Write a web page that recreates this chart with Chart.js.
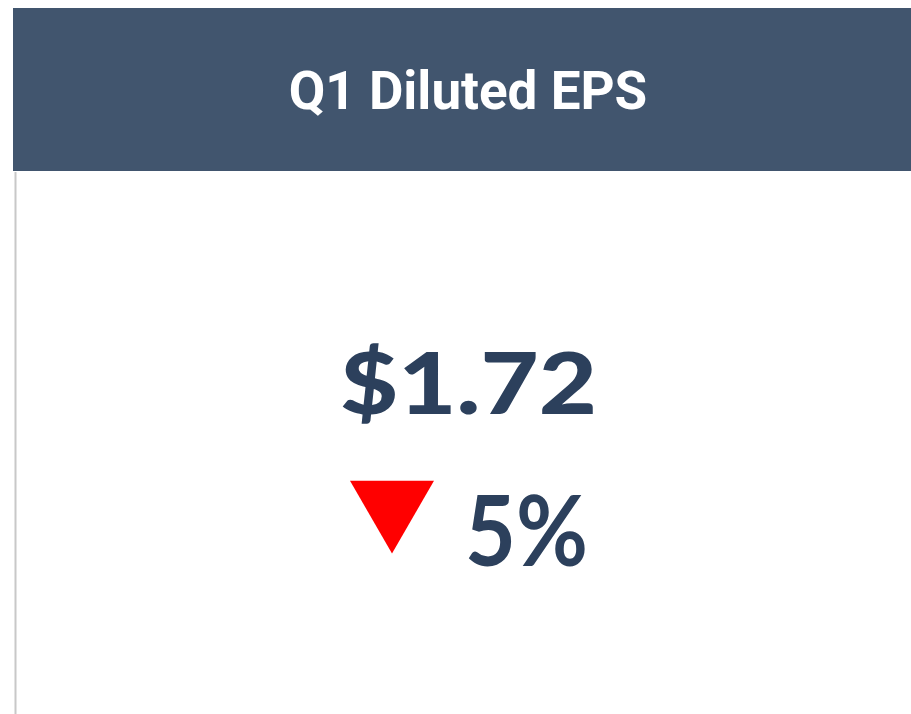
<!DOCTYPE html>
<html>
<head>
<meta charset="utf-8">
<script src="https://cdn.jsdelivr.net/npm/chart.js@4/dist/chart.umd.min.js"></script>
<style>
  html, body { margin: 0; padding: 0; background: #fff; }
  canvas { display: block; }
</style>
</head>
<body>
<canvas id="kpiChart" width="911" height="714"></canvas>
<script>
// KPI data
const kpiTitle = ['Q1 Diluted EPS'];
const epsValue = [1.72];
const changePct = [-5];

const navy = '#2c405c';
const headerBlue = '#41556e';

// layout of the card (pixels)
const card = { left: 13, headerTop: 8, headerBottom: 171 };
const valueY = 414;      // baseline of the big number
const changeY = 566;     // baseline of the % change
const arrowX = 392;
const arrowY = 505;

function fmtMoney(v) {
    return '$' + v.toFixed(2);
}

// text stretched/squeezed horizontally to a given width
function fitText(ctx, txt, left, baseline, width) {
    const w = ctx.measureText(txt).width;
    ctx.save();
    ctx.translate(left, baseline);
    ctx.scale(width / w, 1);
    ctx.textAlign = 'left';
    ctx.fillText(txt, 0, 0);
    ctx.restore();
}

// draws header, border and texts around the arrow point
const kpiCard = {
    id: 'kpiCard',
    beforeDraw(chart) {
        const ctx = chart.ctx;
        const w = chart.width;
        ctx.save();
        ctx.fillStyle = '#ffffff';
        ctx.fillRect(0, 0, w, chart.height);
        ctx.fillStyle = headerBlue;
        ctx.fillRect(card.left, card.headerTop, w - card.left, card.headerBottom - card.headerTop);
        ctx.fillStyle = '#c8c8c8';
        ctx.fillRect(card.left + 1.5, card.headerBottom + 1, 2, chart.height - card.headerBottom);
        ctx.restore();
    },
    afterDraw(chart) {
        const ctx = chart.ctx;
        ctx.save();
        ctx.fillStyle = '#ffffff';
        ctx.textAlign = 'center';
        ctx.textBaseline = 'alphabetic';
        ctx.font = 'bold 53px Roboto';
        ctx.fillText(kpiTitle[0], 468, 109);

        ctx.fillStyle = navy;
        ctx.font = '900 86px Lato';
        fitText(ctx, fmtMoney(epsValue[0]), 340, valueY, 257);

        ctx.font = 'bold 98px Lato';
        fitText(ctx, Math.abs(changePct[0]) + '%', 465, changeY, 123);
        ctx.restore();
    }
};

new Chart(document.getElementById('kpiChart').getContext('2d'), {
    type: 'scatter',
    data: {
        datasets: [{
            label: 'Change',
            data: changePct.map(() => ({ x: arrowX, y: arrowY })),
            pointStyle: 'triangle',
            rotation: changePct.map(v => v < 0 ? 180 : 0),
            pointRadius: 48.5,
            pointHoverRadius: 48.5,
            borderWidth: 0,
            backgroundColor: changePct.map(v => v < 0 ? '#ff0000' : '#2eaa3c')
        }]
    },
    options: {
        responsive: false,
        animation: false,
        layout: { padding: 0, autoPadding: false },
        events: [],
        scales: {
            x: { type: 'linear', display: false, min: 0, max: 911 },
            y: { type: 'linear', display: false, min: 0, max: 714, reverse: true }
        },
        plugins: {
            legend: { display: false },
            tooltip: { enabled: false },
            title: { display: false }
        }
    },
    plugins: [kpiCard]
});
</script>
</body>
</html>
